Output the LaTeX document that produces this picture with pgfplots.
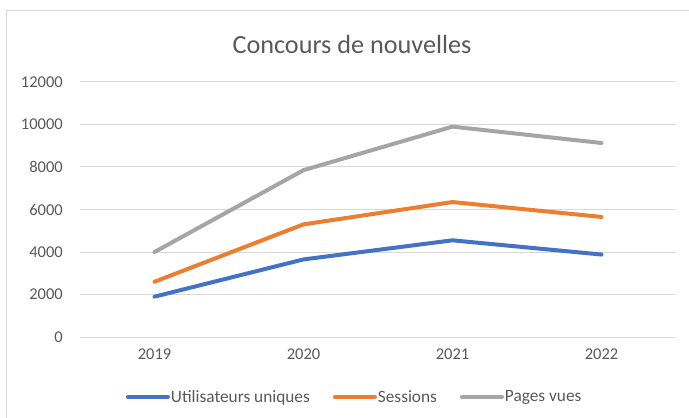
\documentclass[border=0pt]{standalone}
\usepackage{pgfplots}
\pgfplotsset{compat=1.18}
\usepackage{fontspec}
\setmainfont{Carlito}
\definecolor{cblue}{HTML}{4472C4}
\definecolor{corange}{HTML}{ED7D31}
\definecolor{cgray}{HTML}{A5A5A5}
\definecolor{ctext}{HTML}{595959}
\definecolor{cgrid}{HTML}{D9D9D9}
\begin{document}
\begin{tikzpicture}
\useasboundingbox (-80bp,-81bp) rectangle (609bp,337bp);
\draw[cgrid, line width=1.3bp] (-73.5bp,-81bp) -- (-73.5bp,326.5bp) -- (609bp,326.5bp);
\begin{axis}[
  at={(0,0)}, anchor=south west,
  scale only axis, width=596bp, height=255bp,
  xmin=-0.5, xmax=3.5, ymin=0, ymax=12000,
  xtick={0,1,2,3}, xticklabels={2019,2020,2021,2022},
  ytick={0,2000,...,12000},
  scaled y ticks=false,
  axis line style={draw=none},
  major tick length=0pt,
  ymajorgrids, grid style={cgrid, line width=1bp},
  /pgf/number format/assume math mode=true,
  /pgf/number format/1000 sep={},
  /pgf/number format/fixed,
  tick label style={font=\fontsize{16.5bp}{19bp}\selectfont, color=ctext, inner sep=0pt},
  yticklabel style={anchor=east, xshift=-17bp},
  xticklabel style={anchor=north, yshift=-12bp},
  clip=false,
  legend columns=3,
  legend style={draw=none, fill=none, at={(0.46,-0.235)}, anchor=center,
    font=\fontsize{17.3bp}{20bp}\selectfont, text=ctext,
    nodes={inner sep=1bp},
    /tikz/every even column/.append style={column sep=22bp}},
  legend image code/.code={\draw[#1, line width=4bp, line cap=round] (0bp,0bp) -- (40bp,0bp);},
  every axis plot/.append style={line width=4bp, line cap=round, line join=round},
]
\addplot[cblue] coordinates {(0,1900) (1,3650) (2,4550) (3,3880)};
\addlegendentry{Utilisateurs uniques}
\addplot[corange] coordinates {(0,2600) (1,5300) (2,6350) (3,5650)};
\addlegendentry{Sessions}
\addplot[cgray] coordinates {(0,4000) (1,7850) (2,9900) (3,9130)};
\addlegendentry{Pages vues}
\end{axis}
\node[font=\fontsize{26.2bp}{31bp}\selectfont, text=ctext] at (272bp,292bp) {Concours de nouvelles};
\end{tikzpicture}
\end{document}
